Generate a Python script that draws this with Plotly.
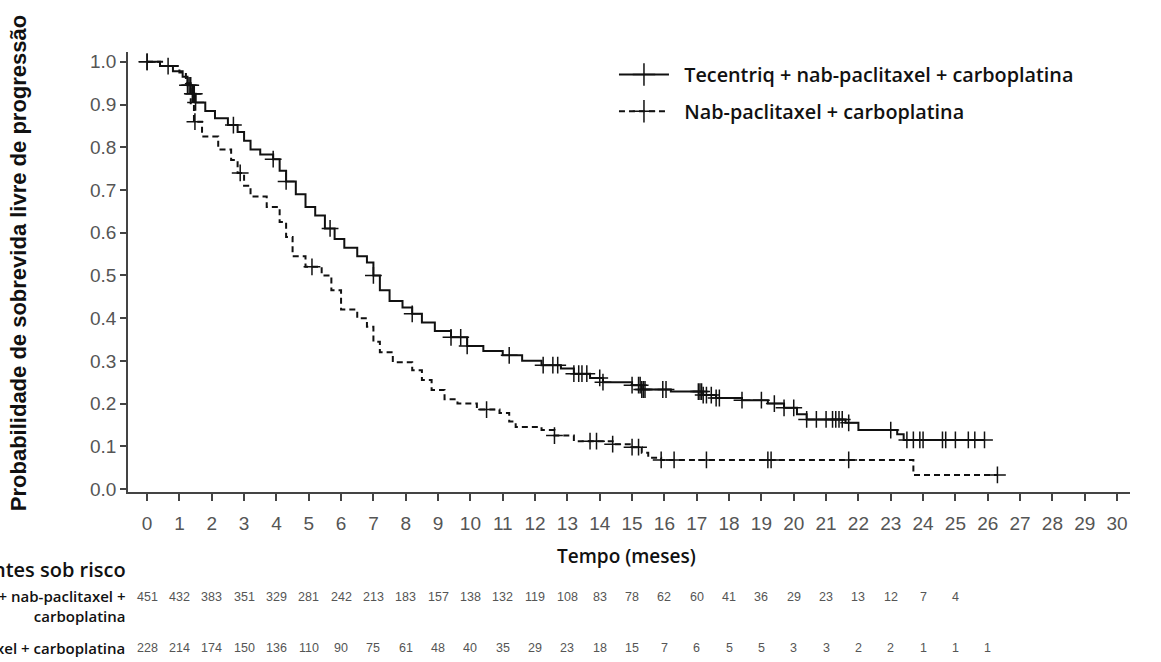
import numpy as np
import plotly.graph_objects as go

# ---------------- data ----------------
months = list(range(0, 31))

atezo_t = [0, 0.4, 0.8, 1.1, 1.25, 1.4, 1.5, 1.8, 2.1, 2.5, 2.8, 3.0, 3.2, 3.5, 3.9, 4.1, 4.3,
           4.6, 4.9, 5.2, 5.5, 5.8, 6.1, 6.5, 6.8, 7.0, 7.2, 7.5, 7.9, 8.2, 8.5, 8.9, 9.4,
           9.9, 10.4, 11.0, 11.6, 12.2, 12.8, 13.2, 13.7, 14.1, 15.0, 15.3, 16.2, 17.2,
           17.6, 18.4, 19.2, 19.7, 20.1, 20.4, 21.6, 22.0, 23.2, 23.4, 25.9]
atezo_s = [1.0, 0.99, 0.978, 0.965, 0.945, 0.925, 0.905, 0.885, 0.868, 0.852, 0.836, 0.815,
           0.795, 0.783, 0.772, 0.745, 0.72, 0.69, 0.66, 0.64, 0.61, 0.585, 0.565, 0.545,
           0.53, 0.50, 0.465, 0.44, 0.425, 0.41, 0.39, 0.37, 0.355, 0.335, 0.323, 0.313,
           0.30, 0.29, 0.282, 0.27, 0.26, 0.25, 0.243, 0.233, 0.228, 0.22, 0.213, 0.208,
           0.20, 0.19, 0.175, 0.163, 0.155, 0.138, 0.128, 0.115, 0.115]
atezo_cens = [0, 0.65, 1.25, 1.3, 1.35, 1.4, 1.43, 1.46, 1.5, 2.67, 3.9, 4.3, 5.66, 7.0, 8.2,
              9.4, 9.7, 9.9, 11.2, 12.25, 12.55, 12.7, 13.2, 13.35, 13.45, 13.6, 14.0, 14.1,
              15.0, 15.2, 15.25, 15.3, 15.35, 15.4, 15.95, 16.05, 17.05, 17.1, 17.15, 17.2,
              17.3, 17.45, 17.6, 17.7, 18.4, 19.0, 19.4, 19.7, 20.0, 20.4, 20.7, 21.0, 21.2,
              21.3, 21.4, 21.5, 21.7, 23.0, 23.5, 23.7, 23.9, 24.0, 24.6, 24.7, 25.0, 25.4,
              25.6, 25.9]

ctrl_t = [0, 0.5, 1.0, 1.2, 1.35, 1.45, 1.7, 2.2, 2.6, 2.8, 3.0, 3.2, 3.7, 4.1, 4.3, 4.5,
          4.9, 5.4, 5.7, 6.0, 6.5, 6.8, 7.0, 7.2, 7.6, 8.2, 8.5, 8.8, 9.2, 9.6, 10.2, 10.9,
          11.2, 11.4, 12.2, 12.6, 13.2, 14.4, 15.0, 15.3, 15.5, 15.9, 23.7, 26.3]
ctrl_s = [1.0, 0.99, 0.975, 0.95, 0.90, 0.86, 0.825, 0.795, 0.77, 0.74, 0.71, 0.685, 0.66,
          0.625, 0.59, 0.545, 0.52, 0.50, 0.465, 0.42, 0.40, 0.38, 0.345, 0.32, 0.297,
          0.278, 0.255, 0.232, 0.21, 0.20, 0.186, 0.178, 0.158, 0.145, 0.138, 0.125, 0.112,
          0.105, 0.098, 0.085, 0.073, 0.068, 0.033, 0.033]
ctrl_cens = [0, 1.48, 2.88, 5.1, 10.5, 12.6, 13.7, 13.9, 14.4, 15.0, 15.2, 15.9, 16.3, 17.3,
             19.2, 19.3, 21.7, 26.3]

risk_atezo = [451, 432, 383, 351, 329, 281, 242, 213, 183, 157, 138, 132, 119, 108, 83, 78,
              62, 60, 41, 36, 29, 23, 13, 12, 7, 4]
risk_ctrl = [228, 214, 174, 150, 136, 110, 90, 75, 61, 48, 40, 35, 29, 23, 18, 15, 7, 6, 5,
             5, 3, 3, 2, 2, 1, 1, 1]

name_atezo = "Tecentriq + nab-paclitaxel + carboplatina"
name_ctrl = "Nab-paclitaxel + carboplatina"
y_ticks = [round(0.1 * i, 1) for i in range(11)]


def step_value(times, surv, t):
    idx = np.searchsorted(np.array(times), np.array(t), side="right") - 1
    return np.array(surv)[idx]


# ---------------- figure ----------------
fig = go.Figure()
INK = "#111111"
LBL = "Open Sans"

for i, (times, surv, cens, name, dash) in enumerate([
    (atezo_t, atezo_s, atezo_cens, name_atezo, "solid"),
    (ctrl_t, ctrl_s, ctrl_cens, name_ctrl, "6px,4px"),
]):
    fig.add_trace(go.Scatter(
        x=times, y=surv, mode="lines", line=dict(color=INK, width=2, dash=dash, shape="hv"),
        showlegend=False, hoverinfo="skip"))
    fig.add_trace(go.Scatter(
        x=cens, y=step_value(times, surv, cens), mode="markers",
        marker=dict(symbol="cross-thin", size=12, line=dict(color=INK, width=1.5)),
        showlegend=False, hoverinfo="skip"))
    # legend entry
    fig.add_trace(go.Scatter(
        x=[None], y=[None], mode="lines+markers", name="\u00a0\u00a0" + name,
        legendgroup=f"g{i}",
        line=dict(color=INK, width=2, dash=dash),
        marker=dict(symbol="cross-thin", size=16, line=dict(color=INK, width=1.5))))

# risk table
for vals, yp in [(risk_atezo, -0.2386), (risk_ctrl, -0.3545)]:
    for m, v in zip(months, vals):
        fig.add_annotation(x=m, y=yp, xref="x", yref="paper", text=str(v), showarrow=False,
                           font=dict(family="Liberation Sans, Arial", size=12.5, color="#555"),
                           xanchor="center", yanchor="middle")

fig.add_annotation(x=0, y=-0.177, xref="paper", yref="paper", text="Pacientes sob risco",
                   showarrow=False, xanchor="right", yanchor="middle", xshift=0,
                   font=dict(family=LBL, size=20, color=INK, weight=600))
fig.add_annotation(x=0, y=-0.259, xref="paper", yref="paper",
                   text="Tecentriq + nab-paclitaxel +<br>carboplatina", align="right",
                   showarrow=False, xanchor="right", yanchor="middle", xshift=-1,
                   font=dict(family=LBL, size=15, color=INK, weight=600))
fig.add_annotation(x=0, y=-0.3545, xref="paper", yref="paper", text=name_ctrl,
                   showarrow=False, xanchor="right", yanchor="middle", xshift=-1,
                   font=dict(family=LBL, size=15, color=INK, weight=600))

# axis titles
fig.add_annotation(x=-0.1098, y=0.52, xref="paper", yref="paper",
                   text="Probabilidade de sobrevida livre de progressão", textangle=-90,
                   showarrow=False, xanchor="center", yanchor="middle",
                   font=dict(family="Liberation Sans, Arial", size=22, color=INK, weight="bold"))
fig.add_annotation(x=0.498, y=-0.145, xref="paper", yref="paper", text="Tempo (meses)",
                   showarrow=False, xanchor="center", yanchor="middle",
                   font=dict(family=LBL, size=19, color=INK, weight=600))

axis_common = dict(showline=True, linecolor="#444", linewidth=1.5, ticks="outside",
                   tickwidth=1.5, tickcolor="#444", showgrid=False, zeroline=False,
                   tickfont=dict(family="Liberation Sans, Arial", size=19, color="#555"))

fig.update_xaxes(range=[-0.59, 30.4], tickvals=months, ticktext=[str(m) for m in months],
                 ticklen=7, ticklabelstandoff=6, **axis_common)
fig.update_yaxes(range=[-0.007, 1.023], tickvals=y_ticks, ticklen=6,
                 ticktext=[f"{v:.1f}" for v in y_ticks], **axis_common)

fig.update_layout(
    width=1161, height=662, margin=dict(l=128, r=31, t=52, b=170),
    paper_bgcolor="white", plot_bgcolor="white",
    legend=dict(x=0.485, y=0.993, xanchor="left", yanchor="top", bgcolor="rgba(0,0,0,0)",
                font=dict(family=LBL, size=19.8, color=INK, weight=600),
                itemwidth=50, traceorder="grouped", tracegroupgap=8),
)

fig.write_html("out.html")
